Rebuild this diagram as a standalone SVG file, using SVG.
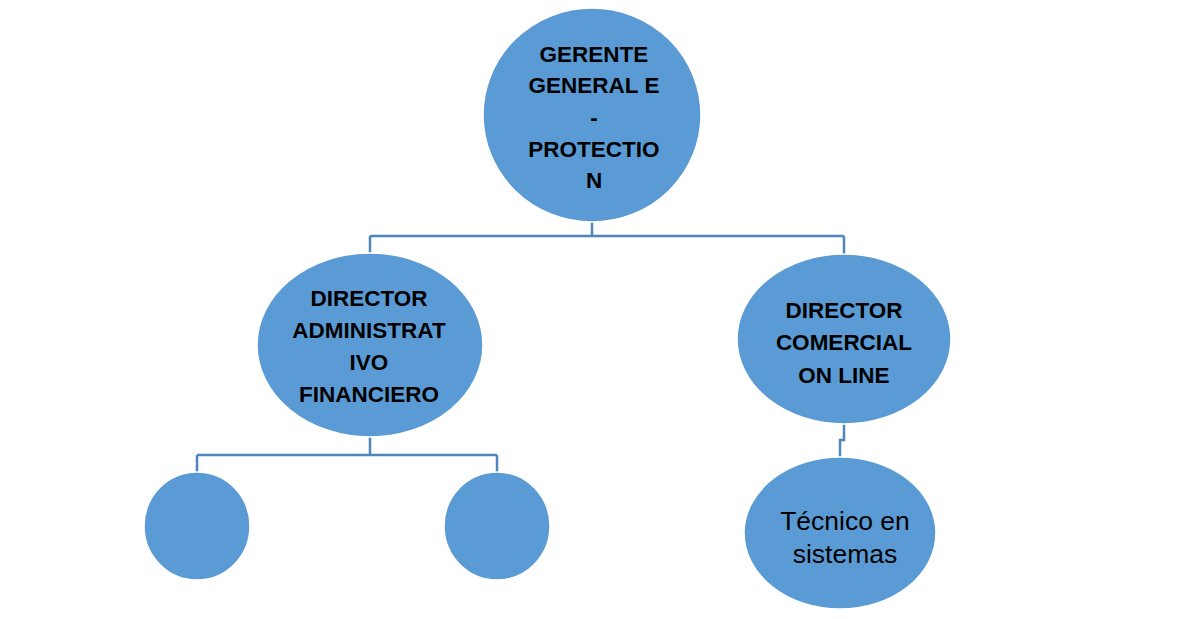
<svg xmlns="http://www.w3.org/2000/svg" width="1197" height="619" viewBox="0 0 1197 619">
<style>
.n{fill:#5B9BD5;stroke:#ffffff;stroke-width:1.5}
.b{font-family:"Liberation Sans",Arial,sans-serif;font-weight:bold;font-size:22.5px;fill:#000;text-anchor:middle}
.r{font-family:"Liberation Sans",Arial,sans-serif;font-size:26.5px;fill:#000;text-anchor:middle}
.c{fill:none;stroke:#4F86BE;stroke-width:2.5}
</style>
<rect width="1197" height="619" fill="#ffffff"/>
<g id="connectors">
<path class="c" d="M592 222 V236 M370 236 H844 M370 236 V254 M844 236 V255"/>
<path class="c" d="M370 437 V455 M197 455 H497 M197 455 V472 M497 455 V472"/>
<path class="c" d="M844 424 V440 H840 V457"/>
</g>
<g id="gerente">
<ellipse class="n" cx="592" cy="115" rx="109" ry="107"/>
<text class="b" x="594" y="62">GERENTE</text>
<text class="b" x="594" y="93">GENERAL E</text>
<text class="b" x="594" y="125">-</text>
<text class="b" x="594" y="157">PROTECTIO</text>
<text class="b" x="594" y="188">N</text>
</g>
<g id="director-admin">
<ellipse class="n" cx="370" cy="345" rx="113" ry="92"/>
<text class="b" x="369" y="306">DIRECTOR</text>
<text class="b" x="369" y="338">ADMINISTRAT</text>
<text class="b" x="369" y="370">IVO</text>
<text class="b" x="369" y="402">FINANCIERO</text>
</g>
<g id="director-comercial">
<ellipse class="n" cx="844" cy="339" rx="107" ry="85"/>
<text class="b" x="844" y="318">DIRECTOR</text>
<text class="b" x="844" y="350">COMERCIAL</text>
<text class="b" x="844" y="383">ON LINE</text>
</g>
<g id="sub-left">
<ellipse class="n" cx="197" cy="526" rx="53" ry="54"/>
</g>
<g id="sub-right">
<ellipse class="n" cx="497" cy="526" rx="53" ry="54"/>
</g>
<g id="tecnico">
<ellipse class="n" cx="840" cy="533" rx="96" ry="76"/>
<text class="r" x="845" y="530">Técnico en</text>
<text class="r" x="845" y="563">sistemas</text>
</g>
</svg>
